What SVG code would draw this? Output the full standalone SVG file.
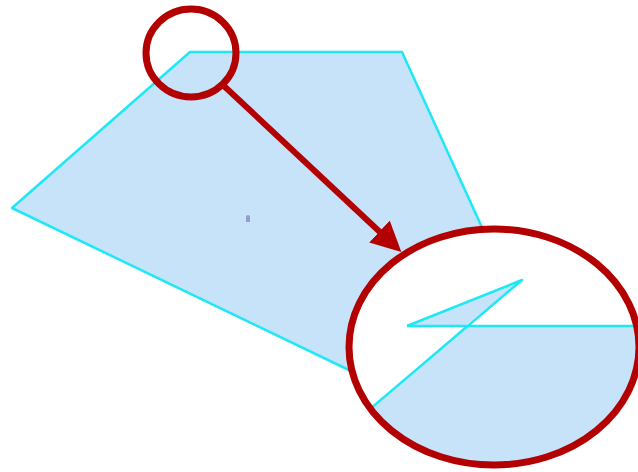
<svg xmlns="http://www.w3.org/2000/svg" width="638" height="472" viewBox="0 0 638 472">
<defs>
<style>
.fill{fill:#c6e3f9;stroke:none}
.edge{fill:none;stroke:#1ee8f5;stroke-width:2.5;stroke-linejoin:round}
.ring{fill:none;stroke:#b30000;stroke-width:7}
</style>
<marker id="ah" markerWidth="5" markerHeight="5" refX="4" refY="2.5" orient="auto" markerUnits="strokeWidth">
<path d="M0,0 L5,2.5 L0,5 Z" fill="#b30000"/>
</marker>
<clipPath id="lens"><ellipse cx="494" cy="347" rx="145" ry="118"/></clipPath>
</defs>
<rect width="638" height="472" fill="#ffffff"/>
<g id="polygon">
<path class="fill" d="M190,52 L402,52 L490,245 L380,385 L12,208 Z"/>
<path class="edge" d="M490,245 L402,52 L190,52 L12,208 L380,385"/>
<path d="M246,216 l2,-1 l2,1 l0,6 l-4,0 Z" fill="#8a8ad0" opacity="0.8"/>
</g>
<g id="zoom-lens">
<ellipse cx="494" cy="347" rx="145" ry="118" fill="#ffffff"/>
<g clip-path="url(#lens)">
<path class="fill" d="M465,326 L660,326 L660,480 L310,480 L372,408 Z"/>
<path class="fill" d="M407,326 L522,280 L465,326 Z"/>
<path class="edge" d="M407,326 L660,326"/>
<path class="edge" d="M407,326 L522,280 L310,460"/>
</g>
<ellipse class="ring" cx="494" cy="347" rx="145" ry="118"/>
</g>
<g id="focus-circle">
<ellipse class="ring" cx="191" cy="53" rx="45" ry="44"/>
</g>
<g id="connectors">
<line x1="224" y1="86" x2="397" y2="248" stroke="#b30000" stroke-width="6" marker-end="url(#ah)"/>
</g>
</svg>
